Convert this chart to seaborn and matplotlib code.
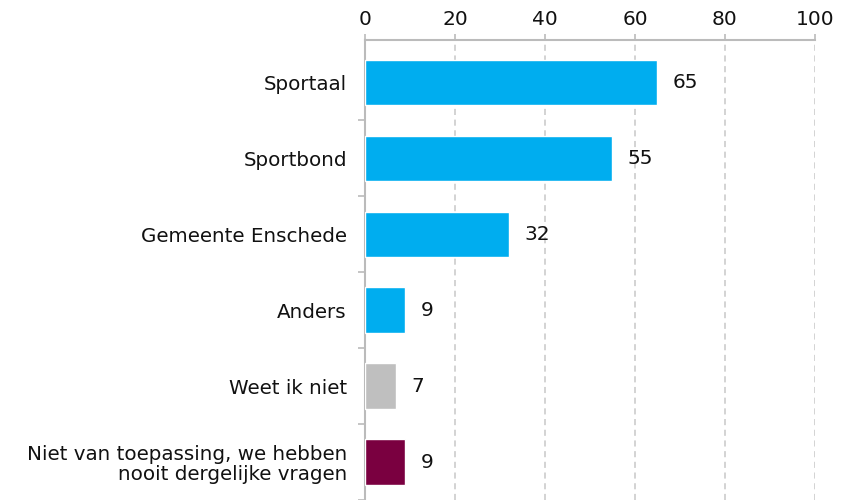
import matplotlib
matplotlib.use("AGG")
import matplotlib.pyplot as plt
import seaborn as sns
import pandas as pd

categories = [
    "Sportaal",
    "Sportbond",
    "Gemeente Enschede",
    "Anders",
    "Weet ik niet",
    "Niet van toepassing, we hebben\nnooit dergelijke vragen",
]
values = [65, 55, 32, 9, 7, 9]
colors = ["#00ADEF", "#00ADEF", "#00ADEF", "#00ADEF", "#BFBFBF", "#7A0040"]
x_ticks = [0, 20, 40, 60, 80, 100]

sns.set_style("white")
plt.rcParams["font.family"] = ["DejaVu Sans"]

df = pd.DataFrame({"cat": categories, "val": values})

fig = plt.figure(figsize=(8.5, 5), dpi=100)
ax = fig.add_axes([0.4294, 0.0, 0.5294, 0.92])
sns.barplot(data=df, y="cat", x="val", hue="cat", palette=colors,
            legend=False, width=0.6, ax=ax, zorder=3, saturation=1)

ax.set_xlim(0, 100)
ax.set_ylim(5.44, -0.56)
ax.set_xticks(x_ticks)
ax.xaxis.tick_top()
ax.tick_params(axis="x", which="both", top=True, bottom=False, length=4,
               color="#BBBBBB", width=1.2, labelsize=14.5, pad=4, labelcolor="#111111")
ax.grid(axis="x", linestyle=(0, (4, 3)), color="#C8C8C8", linewidth=1.1, zorder=0)
ax.set_xlabel("")
ax.set_ylabel("")

ax.set_yticks(range(len(categories)))
ax.set_yticklabels(categories, fontsize=14.3, color="#111111", linespacing=1.05)
ax.set_yticks([i + 0.5 for i in range(len(categories))], minor=True)
ax.tick_params(axis="y", which="major", length=0, pad=13)
ax.tick_params(axis="y", which="minor", length=5, color="#BBBBBB", width=1.2, left=True)

for s in ["right", "bottom"]:
    ax.spines[s].set_visible(False)
ax.spines["left"].set_color("#BBBBBB")
ax.spines["left"].set_linewidth(1.5)
ax.spines["top"].set_color("#BBBBBB")
ax.spines["top"].set_linewidth(1.5)

for c in ax.containers:
    ax.bar_label(c, padding=11, fontsize=14.5, color="#111111")

plt.savefig("out.png", dpi=100)
